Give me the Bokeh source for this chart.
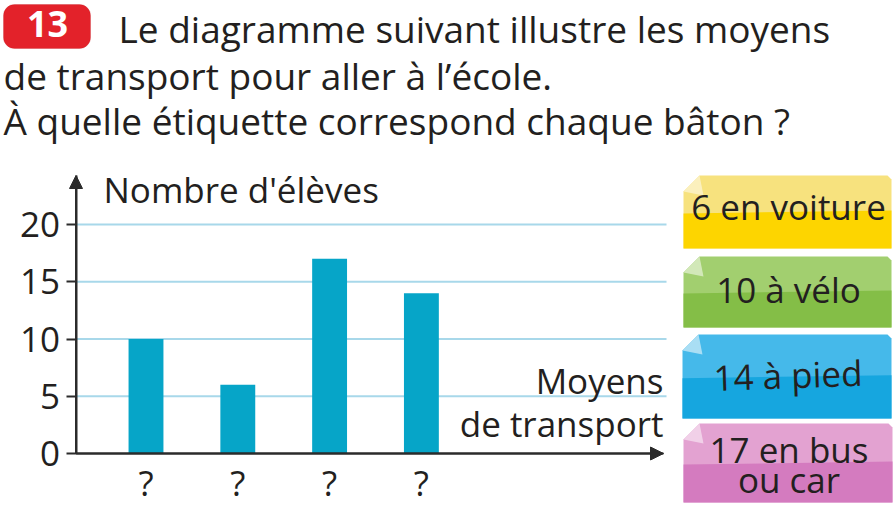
from bokeh.plotting import figure
from bokeh.models import (Label, BoxAnnotation, PolyAnnotation, Arrow, NormalHead,
                          FixedTicker, ColumnDataSource, Range1d)
from bokeh.embed import file_html
from bokeh.resources import INLINE

# ---- data ----
categories = ["?", "?", "?", "?"]
positions = [1, 2, 3, 4]
counts = [10, 6, 17, 14]
y_ticks = [0, 5, 10, 15, 20]
grid_ticks = [5, 10, 15, 20]
y_axis_label = "Nombre d'élèves"
x_axis_label = ["Moyens", "de transport"]
question_number = "13"
question_lines = ["Le diagramme suivant illustre les moyens",
                  "de transport pour aller à l\u2019école.",
                  "À quelle étiquette correspond chaque bâton ?"]
tag_lines = [["6 en voiture"], ["10 à vélo"], ["14 à pied"], ["17 en bus", "ou car"]]

# ---- style ----
FONT = "Open Sans"
TXT = "#231f20"
AX = "#2b2b2b"
BAR = "#06a5c8"
GRID = "#a8d8ea"
TAG_TOP = ["#f7e27e", "#a2cf6f", "#45b9ea", "#e3a2d1"]
TAG_BOT = ["#fdd500", "#84be47", "#16a6df", "#d47bbf"]
TAG_FOLD = ["#fbf0bd", "#d2e8b8", "#a9def4", "#f1d0e8"]

# ---- layout (page pixels) ----
W, H = 894, 508
KX, KY = 91.8, 11.45          # pixels per data unit
PX_X1, PX_Y0 = 145.5, 453.0   # page pixel of x=1 and of y=0
def dx(px):
    return 1 + (px - PX_X1) / KX
def dy(py):
    return (PX_Y0 - py) / KY
AXIS_X = dx(75.5)
X_END = dx(663)
GRID_END = dx(666)
Y_TOP = dy(175)

p = figure(width=W, height=H, output_backend="svg", toolbar_location=None,
           x_range=Range1d(dx(0), dx(W)), y_range=Range1d(dy(H), dy(0)),
           min_border=0, min_border_left=0, min_border_right=0,
           min_border_top=0, min_border_bottom=0,
           background_fill_color="white", border_fill_color="white",
           outline_line_color=None)
p.xgrid.visible = False
p.ygrid.visible = False

# grid lines (only between the axes)
p.segment(x0=[AXIS_X] * len(grid_ticks), y0=grid_ticks,
          x1=[GRID_END] * len(grid_ticks), y1=grid_ticks,
          line_color=GRID, line_width=2)

# bars
src = ColumnDataSource(dict(x=positions, top=counts))
p.vbar(x="x", top="top", width=0.38, source=src, fill_color=BAR, line_color=None)

# y axis
ya = p.yaxis[0]
ya.fixed_location = AXIS_X
ya.bounds = (0, Y_TOP)
ya.ticker = FixedTicker(ticks=y_ticks)
ya.axis_line_color = AX
ya.axis_line_width = 2
ya.major_tick_line_color = AX
ya.major_tick_line_width = 2
ya.major_tick_out = 10
ya.major_tick_in = 0
ya.minor_tick_line_color = None
ya.major_label_standoff = 6
ya.major_label_text_font = FONT
ya.major_label_text_font_size = "35px"
ya.major_label_text_color = TXT

# x axis
xa = p.xaxis[0]
xa.fixed_location = 0
xa.bounds = (AXIS_X, X_END)
xa.ticker = FixedTicker(ticks=positions)
xa.major_label_overrides = {pos: c for pos, c in zip(positions, categories)}
xa.axis_line_color = AX
xa.axis_line_width = 2
xa.major_tick_line_color = None
xa.major_tick_out = 0
xa.major_tick_in = 0
xa.minor_tick_line_color = None
xa.major_label_standoff = 5
xa.major_label_text_font = FONT
xa.major_label_text_font_size = "35px"
xa.major_label_text_color = TXT

# axis arrows
p.add_layout(Arrow(x_start=AXIS_X, y_start=0, x_end=AXIS_X, y_end=Y_TOP, line_color=AX,
                   line_width=2, end=NormalHead(size=13, fill_color=AX, line_color=AX)))
p.add_layout(Arrow(x_start=AXIS_X, y_start=0, x_end=X_END, y_end=0, line_color=AX,
                   line_width=2, end=NormalHead(size=13, fill_color=AX, line_color=AX)))

# helpers: page pixel -> screen units (canvas bottom-left origin, y upward)
def sx(ix):
    return ix
def sy(iy):
    return H - iy

def lab(text, ix, iy, size, align="left", color=TXT, style="normal", angle=0):
    # iy is the wanted baseline (page px); correct for the label box offset
    iy_box = iy - 0.39 * size
    p.add_layout(Label(x=sx(ix), y=sy(iy_box), x_units="screen", y_units="screen", text=text,
                       text_font=FONT, text_font_size=f"{size}px", text_color=color,
                       text_align=align, text_baseline="alphabetic", text_font_style=style,
                       angle=angle))

# question header
p.add_layout(BoxAnnotation(left=sx(3), right=sx(90), top=sy(4), bottom=sy(48),
                           left_units="screen", right_units="screen",
                           top_units="screen", bottom_units="screen",
                           fill_color="#e3222a", fill_alpha=1, line_color="#c51b22",
                           line_width=1, border_radius=11))
lab(question_number, 47, 38, 36, align="center", color="white", style="bold")
lab(question_lines[0], 118, 42, 37)
lab(question_lines[1], 3, 89, 37)
lab(question_lines[2], 3, 134, 37)

# axis titles
lab(y_axis_label, 103, 203, 35)
lab(x_axis_label[0], 663, 394, 35, align="right")
lab(x_axis_label[1], 663, 437, 35, align="right")

# tags
tag_boxes = [(683, 175, 891, 248), (683, 256, 891, 327), (682, 334, 891, 418), (683, 423, 892, 502)]
tag_text_y = [[220], [303], [388], [463, 493]]
tag_angle = [0, 0, 0.035, 0]
for i, (L, T, R, B) in enumerate(tag_boxes):
    c = 16
    mid = T + (B - T) * 0.52
    xs = [L, L + c, R - 4, R, R, L]
    ys = [T + c, T, T, T + 4, B, B]
    p.add_layout(PolyAnnotation(xs=[sx(v) for v in xs], ys=[sy(v) for v in ys],
                                xs_units="screen", ys_units="screen",
                                fill_color=TAG_TOP[i], fill_alpha=1, line_color=None))
    xs2 = [L, R, R, L]
    ys2 = [mid, mid - 3, B, B]
    p.add_layout(PolyAnnotation(xs=[sx(v) for v in xs2], ys=[sy(v) for v in ys2],
                                xs_units="screen", ys_units="screen",
                                fill_color=TAG_BOT[i], fill_alpha=1, line_color=None))
    xs3 = [L, L + c, L + c + 4]
    ys3 = [T + c, T, T + c + 4]
    p.add_layout(PolyAnnotation(xs=[sx(v) for v in xs3], ys=[sy(v) for v in ys3],
                                xs_units="screen", ys_units="screen",
                                fill_color=TAG_FOLD[i], fill_alpha=1, line_color=None))
    cx = (L + R) / 2 + 1
    for t, ty in zip(tag_lines[i], tag_text_y[i]):
        lab(t, cx, ty, 35, align="center", angle=tag_angle[i])

open("out.html", "w").write(file_html(p, INLINE))
